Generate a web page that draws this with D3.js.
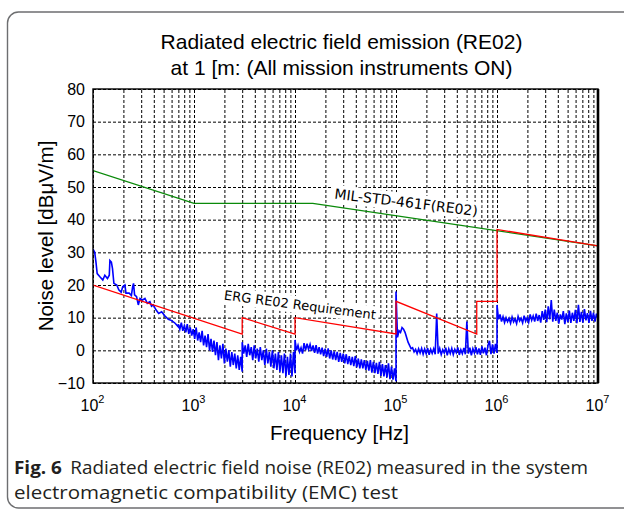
<!DOCTYPE html>
<html>
<head>
<meta charset="utf-8">
<script src="https://cdn.jsdelivr.net/npm/d3@7"></script>
<style>
  body { margin: 0; background: #fff; }
</style>
</head>
<body>
<svg id="chart" width="624" height="510"></svg>
<script>
// ---- data ----
const yTicks = [-10, 0, 10, 20, 30, 40, 50, 60, 70, 80];
const xDecades = [1e2, 1e3, 1e4, 1e5, 1e6, 1e7];

// MIL-STD-461F RE02 limit [Hz, dBuV/m]
const milStd = [[100, 55], [1000, 45], [15000, 45], [1e7, 32]];

// ERG RE02 requirement [Hz, dBuV/m]
const ergReq = [
  [100, 20], [3000, 5], [3000, 10], [10000, 5], [10000, 10],
  [1e5, 5], [1e5, 15], [6.3e5, 5], [6.3e5, 15], [1e6, 15], [1e6, 37], [1e7, 32]
];

// measured noise, low band as [Hz, dBuV/m]
const noiseLow = [
  [100, 31], [104, 30], [107, 27], [110, 23.5], [117, 22.5], [125, 21.5], [131, 23],
  [139, 22], [145, 23], [147, 27.5], [152, 27], [156, 25], [161, 20.5], [172, 20],
  [180, 18.5], [190, 17.8], [197, 19.5], [207, 20], [212, 17.5], [228, 17.5],
  [240, 16.8], [247, 19.5], [252, 20.5], [258, 17], [270, 16.4], [281, 13.9],
  [292, 15.9], [310, 15.4], [327, 15.9], [345, 14.4], [366, 14.9], [380, 13.5],
  [395, 13.9], [420, 12.4], [447, 11.3], [478, 11.8], [516, 10.5], [557, 9.5],
  [602, 9.1], [650, 8.3], [700, 7.2]
];

// measured noise, dense bands: levels sampled evenly in log frequency over each range
const band1Range = [700, 3000];
const band1 = [8, 6.5, 8.5, 6, 7.5, 5.5, 8, 5, 7, 4.5, 6.5, 3.5, 7, 3, 5.5, 2.5, 6, 1.5, 4.5, 1,
  5, 0, 3.5, -0.5, 3, -1.5, 2.5, -3, 1.5, -2.5, 2, -4, 0.5, -3.5, 0, -5, -0.5, -4.5, -1, -5.5,
  -1.5, -6, -2, -6.5];

const band2Range = [3000, 10000];
const band2 = [2.5, -1, 1.5, -2, 2, -1.5, 1, -3, 1.5, -2.5, 0.5, -3.5, 1, -3, 0, -4.5, 0.5, -4,
  -0.5, -5, 0, -5.5, -1, -6, -0.5, -6.5, -1.5, -7, -1, -8, -2, -7.5, -1, -8, -0.5, -7];

const band3Range = [1e4, 1e5];
const band3 = [3.2, 0, 1.5, -0.5, 0.8, -1, 2.2, 0, 2, 0.3, 1.8, -0.2, 1.5, -0.8, 1.6, -1,
  1, -1.2, 0.8, -1.8, 0.5, -2, 0.6, -2.5, 0, -2.8, -0.3, -3, -0.5, -3.5, -0.8, -3.5, -1, -4,
  -1.2, -4.2, -1.8, -4.5, -2, -4.8, -1.8, -5.2, -2.5, -5.5, -2.8, -5.5, -3, -6, -3.2, -6.2,
  -3, -6.8, -3.5, -7, -3.8, -7.2, -3.5, -7.8, -4.2, -8, -4.5, -8.3, -4, -8.8, -5, -9, -5.5, -9.5];

const band4Range = [1e5, 1e6];
const band4 = [18, 4, 6, 5.5, 7, 6.5, 5.5, 4, 2.5, 1.5, 0.5, 0.8, -0.5, 0.3, -1, 0.5, -0.8,
  0.6, -1.2, 0.4, -1, 0.7, -1.4, 0.3, -0.9, 0.5, -1.2, 11.3, -1, 0.6, -1.3, 0.2, -0.8, 0.8,
  -1.5, 0.4, -1, 0.6, -1.3, 0.3, -0.7, 0.9, -1.4, 0.2, -1, 0.7, -1.2, 8.8, -1, 0.8, -1.5, 0.5,
  -0.8, 1, -1.2, 0.6, -1.4, 1.2, -0.9, 0.8, -1.5, 1.5, 2.9, -1.2, 1.8, -1, 2, -0.8];

const band5Range = [1e6, 1e7];
const band5 = [13.9, 9.5, 11, 8.8, 10.3, 8.5, 10, 8.8, 9.8, 8.3, 10.2, 8.7, 9.6, 8.2, 10.4, 9,
  9.8, 8.4, 10.6, 8.9, 10, 8.6, 11, 9.2, 10.5, 8.8, 11.2, 9, 10.8, 8.5, 12, 9.3, 12.5, 8.6,
  13.5, 9.5, 15.4, 8.8, 12.5, 9, 11.5, 8.2, 11, 9.4, 12, 8, 11.3, 8.6, 12.2, 8.4, 11.5, 9,
  12.4, 8.3, 13.9, 8.7, 11.8, 8.5, 12.6, 9.2, 11.4, 8.4, 12.1, 9, 11.5, 8.8, 11.2, 9.6];

const titleLines = ["Radiated electric field emission (RE02)", "at 1 [m: (All mission instruments ON)"];
const captionLines = ["Radiated electric field noise (RE02) measured in the system",
  "electromagnetic compatibility (EMC) test"];

// ---- layout ----
const svg = d3.select("#chart");
const sans = "Liberation Sans, Arial, sans-serif";
const pLeft = 93, pRight = 598, pTop = 89, pBottom = 383;
const x = d3.scaleLog().domain([1e2, 1e7]).range([pLeft, pRight]);
const y = d3.scaleLinear().domain([-10, 80]).range([pBottom, pTop]);

// outer rounded frame of the figure
svg.append("rect")
  .attr("x", 7.5).attr("y", 12).attr("width", 660).attr("height", 496)
  .attr("rx", 11).attr("fill", "none").attr("stroke", "#6d6e70").attr("stroke-width", 1.4);

// title
svg.append("g").selectAll("text").data(titleLines).join("text")
  .attr("x", (pLeft + pRight) / 2 - 4).attr("y", (d, i) => 49 + i * 26)
  .attr("text-anchor", "middle").style("font-family", sans).style("font-size", "21px").text(d => d);

// vertical grid (every 1..9 x decade)
const xGrid = svg.append("g").attr("transform", `translate(0,${pBottom})`)
  .call(d3.axisBottom(x).tickSize(-(pBottom - pTop)).tickFormat(""));
xGrid.select(".domain").remove();
xGrid.selectAll("line").attr("stroke", "#000").attr("stroke-dasharray", "3,2").attr("stroke-width", 1);

// horizontal grid + y labels
const yAxis = svg.append("g").attr("transform", `translate(${pLeft},0)`)
  .call(d3.axisLeft(y).tickValues(yTicks).tickSize(-(pRight - pLeft)).tickPadding(8));
yAxis.select(".domain").remove();
yAxis.selectAll("line").attr("stroke", "#000").attr("stroke-dasharray", "3,2").attr("stroke-width", 1);
yAxis.selectAll("text").attr("fill", "#000")
  .style("font-family", sans).style("font-size", "16px");

// x labels 10^n
const xAxis = svg.append("g").attr("transform", `translate(0,${pBottom})`)
  .call(d3.axisBottom(x).tickValues(xDecades).tickSize(0).tickFormat(""));
xAxis.select(".domain").remove();
xAxis.selectAll(".tick text").each(function (d) {
  const t = d3.select(this).attr("y", 28).attr("dy", null).attr("dx", -1)
    .attr("fill", "#000").style("font-family", sans).style("font-size", "16px");
  t.append("tspan").text("10");
  t.append("tspan").attr("dy", -8).style("font-size", "11px").text(Math.round(Math.log10(d)));
});

// axis titles
svg.append("text").attr("x", (pLeft + pRight) / 2 - 6).attr("y", 440)
  .attr("text-anchor", "middle").style("font-family", sans).style("font-size", "20.5px")
  .text("Frequency [Hz]");
svg.append("text").attr("transform", `translate(53,${(pTop + pBottom) / 2}) rotate(-90)`)
  .attr("text-anchor", "middle").style("font-family", sans).style("font-size", "20.5px")
  .text("Noise level [dB\u03bcV/m]");

// line labels with white boxes
function boxedLabel(f, v, angle, size, label) {
  const g = svg.append("g").attr("transform", `translate(${x(f)},${y(v)}) rotate(${angle})`);
  const t = g.append("text").attr("text-anchor", "middle").attr("dy", "0.35em")
    .style("font-family", "DejaVu Sans, sans-serif").style("font-size", size + "px").text(label);
  const b = t.node().getBBox();
  g.insert("rect", "text").attr("x", b.x - 3).attr("y", b.y - 1)
    .attr("width", b.width + 6).attr("height", b.height + 2).attr("fill", "#fff");
}
boxedLabel(1.26e5, 45.3, 7, 14, "MIL-STD-461F(RE02)");
boxedLabel(1.12e4, 13.9, 7.5, 13, "ERG RE02 Requirement");

// curves
svg.append("clipPath").attr("id", "plotClip").append("rect")
  .attr("x", pLeft).attr("y", pTop).attr("width", pRight - pLeft).attr("height", pBottom - pTop);
const plot = svg.append("g").attr("clip-path", "url(#plotClip)");
const line = d3.line().x(d => x(d[0])).y(d => y(d[1]));

function sampled(range, levels) {
  const n = levels.length - 1;
  return levels.map((v, i) => [range[0] * Math.pow(range[1] / range[0], i / n), v]);
}
const noise = noiseLow
  .concat(sampled(band1Range, band1))
  .concat(sampled(band2Range, band2))
  .concat(sampled(band3Range, band3))
  .concat(sampled(band4Range, band4))
  .concat(sampled(band5Range, band5));

plot.append("path").datum(noise).attr("d", line)
  .attr("fill", "none").attr("stroke", "#0000ff").attr("stroke-width", 1.6);
plot.append("path").datum(milStd).attr("d", line)
  .attr("fill", "none").attr("stroke", "#0a8a0a").attr("stroke-width", 1.3);
plot.append("path").datum(ergReq).attr("d", line)
  .attr("fill", "none").attr("stroke", "#ff0000").attr("stroke-width", 1.3);

// plot frame
svg.append("rect").attr("x", pLeft).attr("y", pTop).attr("width", pRight - pLeft).attr("height", pBottom - pTop)
  .attr("fill", "none").attr("stroke", "#000").attr("stroke-width", 1.4);
svg.append("line").attr("x1", pRight).attr("x2", pRight).attr("y1", pTop).attr("y2", pBottom)
  .attr("stroke", "#000").attr("stroke-width", 2.6);

// caption
const capFont = "Open Sans, Noto Sans, sans-serif";
const c1 = svg.append("text").attr("x", 14).attr("y", 474).attr("fill", "#231f20")
  .attr("textLength", 574).attr("lengthAdjust", "spacingAndGlyphs")
  .style("font-family", capFont).style("font-size", "18px");
c1.append("tspan").style("font-weight", "bold").text("Fig. 6");
c1.append("tspan").attr("dx", 8).text(captionLines[0]);
svg.append("text").attr("x", 14).attr("y", 499).attr("fill", "#231f20")
  .attr("textLength", 384).attr("lengthAdjust", "spacingAndGlyphs")
  .style("font-family", capFont).style("font-size", "18px").text(captionLines[1]);
</script>
</body>
</html>
